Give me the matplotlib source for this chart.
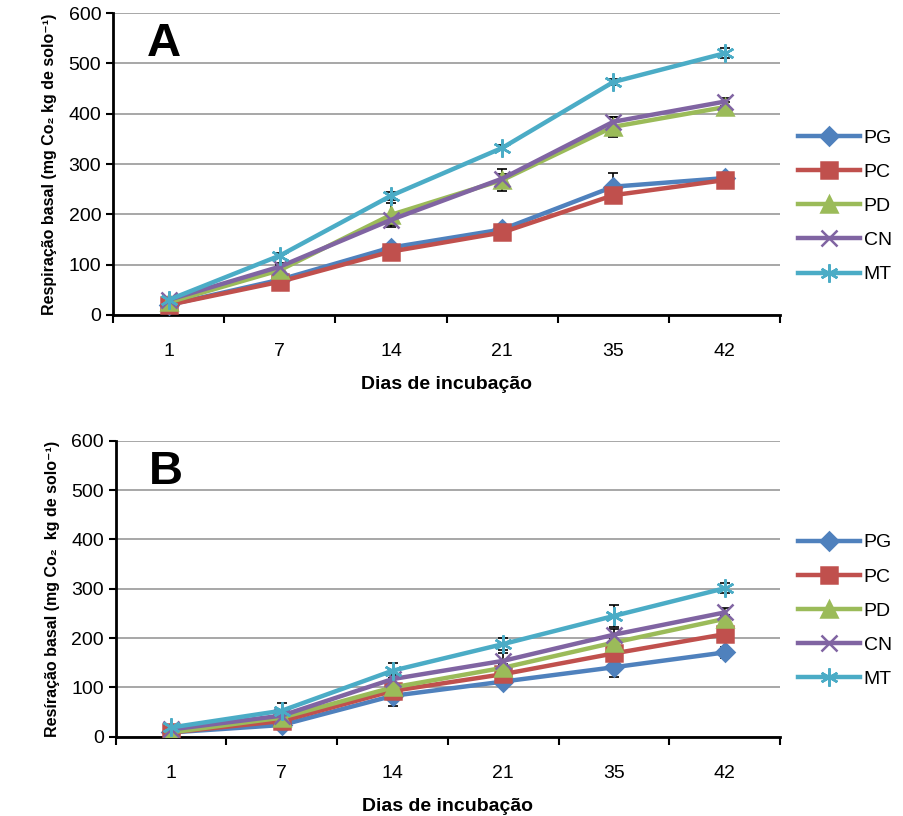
import matplotlib.pyplot as plt

days = ["1", "7", "14", "21", "35", "42"]
series = ["PG", "PC", "PD", "CN", "MT"]

# panel A (mg CO2 kg-1 solo)
a_pg = [20, 70, 134, 170, 255, 272]
a_pc = [20, 66, 126, 164, 238, 268]
a_pd = [25, 89, 199, 268, 374, 413]
a_cn = [30, 96, 189, 271, 384, 424]
a_mt = [30, 118, 237, 332, 463, 520]
a_err_pg = [5, 6, 6, 5, 27, 6]
a_err_pc = [5, 6, 6, 5, 8, 6]
a_err_pd = [5, 10, 24, 22, 20, 10]
a_err_cn = [5, 8, 10, 10, 10, 8]
a_err_mt = [5, 5, 8, 5, 6, 10]

# panel B
b_pg = [9, 24, 83, 112, 141, 171]
b_pc = [9, 32, 93, 127, 169, 208]
b_pd = [9, 39, 100, 140, 191, 239]
b_cn = [15, 43, 117, 154, 207, 252]
b_mt = [19, 53, 134, 188, 245, 301]
b_err_pg = [8, 8, 20, 6, 20, 12]
b_err_pc = [6, 6, 8, 6, 8, 8]
b_err_pd = [6, 8, 8, 8, 8, 8]
b_err_cn = [6, 8, 8, 15, 12, 10]
b_err_mt = [6, 15, 15, 12, 22, 10]

colors = ["#4F81BD", "#C0504D", "#9BBB59", "#8064A2", "#4BACC6"]
markers = ["D", "s", "^", "x", (6, 2, 0)]
msizes = [9, 11, 11, 11, 13]

plt.rcParams["font.family"] = ["Liberation Sans", "DejaVu Sans"]

fig = plt.figure(figsize=(9.04, 8.16), dpi=100)
axA = fig.add_axes([0.125, 0.614, 0.738, 0.370])
axB = fig.add_axes([0.128, 0.097, 0.735, 0.363])

panels = [
    (axA, "A", [a_pg, a_pc, a_pd, a_cn, a_mt],
     [a_err_pg, a_err_pc, a_err_pd, a_err_cn, a_err_mt],
     "Respiração basal (mg Co₂ kg de solo⁻¹)", 0.36),
    (axB, "B", [b_pg, b_pc, b_pd, b_cn, b_mt],
     [b_err_pg, b_err_pc, b_err_pd, b_err_cn, b_err_mt],
     "Resíração basal (mg Co₂  kg de solo⁻¹)", 0.425),
]

x = list(range(len(days)))
for ax, letter, vals, errs, ylab, legy in panels:
    for i in range(5):
        ax.errorbar(x, vals[i], yerr=errs[i], fmt="none", ecolor="black",
                    elinewidth=1.2, capsize=3.5, capthick=1.2, zorder=2)
        ax.plot(x, vals[i], color=colors[i], lw=3.2, marker=markers[i],
                ms=msizes[i], mew=1.8, label=series[i], zorder=3)
    ax.set_ylim(0, 600)
    ax.set_xlim(-0.5, 5.5)
    ax.set_yticks(range(0, 601, 100))
    ax.yaxis.grid(True, color="#a0a0a0", lw=1.3)
    ax.set_axisbelow(True)
    ax.set_xticks([i - 0.5 for i in range(7)])
    ax.set_xticklabels([])
    ax.set_xticks(x, minor=True)
    ax.set_xticklabels(days, minor=True)
    ax.tick_params(axis="x", which="minor", length=0, pad=20, labelsize=14)
    ax.tick_params(axis="x", which="major", length=6, width=1.5)
    ax.tick_params(axis="y", length=5, width=1.5, labelsize=14)
    for s in ["top", "right"]:
        ax.spines[s].set_visible(False)
    for s in ["left", "bottom"]:
        ax.spines[s].set_linewidth(2)
    ax.text(0.05, 0.97, letter, transform=ax.transAxes, fontsize=34,
            fontweight="bold", va="top", ha="left")
    ax.set_xlabel("Dias de incubação", fontsize=14, fontweight="bold",
                  labelpad=12)
    ax.set_ylabel(ylab, fontsize=11.5, fontweight="bold", labelpad=8)
    ax.legend(loc="center left", bbox_to_anchor=(1.0, legy), frameon=False,
              fontsize=14, handlelength=3.2, labelspacing=0.85,
              handletextpad=0.2)

fig.savefig("out.png", dpi=100)
